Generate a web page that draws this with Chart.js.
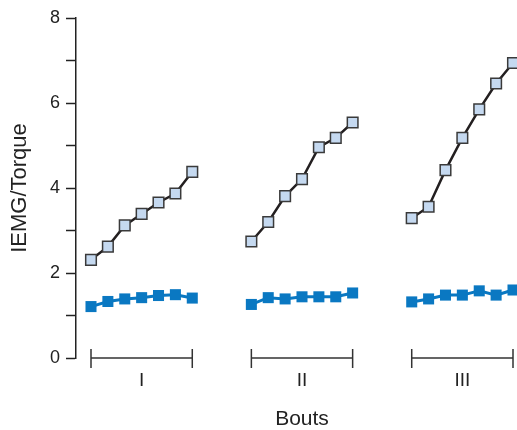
<!DOCTYPE html>
<html>
<head>
<meta charset="utf-8">
<script src="https://cdn.jsdelivr.net/npm/chart.js@4.4.0/dist/chart.umd.min.js"></script>
<style>
  html, body { margin: 0; padding: 0; background: #fff; }
  #wrap { width: 517px; height: 430px; }
</style>
</head>
<body>
<div id="wrap"><canvas id="myChart" width="517" height="430"></canvas></div>
<script>
// bouts and the seven readings taken in each
var bouts = ["I", "II", "III"];
var upperI   = [2.31, 2.62, 3.12, 3.39, 3.66, 3.87, 4.38];
var upperII  = [2.74, 3.20, 3.81, 4.21, 4.96, 5.18, 5.54];
var upperIII = [3.29, 3.56, 4.42, 5.18, 5.85, 6.46, 6.94];
var lowerI   = [1.21, 1.33, 1.39, 1.42, 1.47, 1.49, 1.41];
var lowerII  = [1.26, 1.42, 1.39, 1.44, 1.44, 1.44, 1.53];
var lowerIII = [1.32, 1.39, 1.48, 1.48, 1.58, 1.48, 1.60];
var yTicks = [0, 2, 4, 6, 8];
var xTitle = 'Bouts';

var upper = [upperI, upperII, upperIII];
var lower = [lowerI, lowerII, lowerIII];

// x layout: bouts 9.5 reading steps apart, one step ~16.9px, first reading 15px right of the axis
var boutGap = 9.5;
var stepPx = 16.88;
var leadPx = 15;
var font = "'Liberation Sans', Arial, Helvetica, sans-serif";

function pts(vals, b){
    return vals.map(function(v, i){ return {x: b * boutGap + i, y: v}; });
}

var datasets = [];
bouts.forEach(function(name, b){
    datasets.push({
        label: 'upper ' + name,
        data: pts(upper[b], b),
        borderColor: '#231f20',
        borderWidth: 2.5,
        pointStyle: 'rect',
        pointRadius: 7.5,
        pointBackgroundColor: '#c5d9f0',
        pointBorderColor: '#3a3a3a',
        pointBorderWidth: 1.5,
        clip: false
    });
    datasets.push({
        label: 'lower ' + name,
        data: pts(lower[b], b),
        borderColor: '#0a78c2',
        borderWidth: 3,
        pointStyle: 'rect',
        pointRadius: 7.8,
        pointBackgroundColor: '#0a78c2',
        pointBorderColor: '#0a78c2',
        pointBorderWidth: 0,
        clip: false
    });
});

// bracket under each bout with its numeral, axis title under the middle bout
var brackets = {
    id: 'brackets',
    afterDatasetsDraw: function(chart){
        var ctx = chart.ctx, xs = chart.scales.x, ys = chart.scales.y;
        var y = ys.getPixelForValue(0);
        var mid = [];
        ctx.save();
        ctx.strokeStyle = '#333';
        ctx.lineWidth = 1.5;
        ctx.fillStyle = '#222';
        ctx.font = '19px ' + font;
        ctx.textAlign = 'center';
        ctx.textBaseline = 'middle';
        bouts.forEach(function(name, b){
            var x1 = xs.getPixelForValue(b * boutGap);
            var x2 = xs.getPixelForValue(b * boutGap + upper[b].length - 1);
            ctx.beginPath();
            ctx.moveTo(x1, y); ctx.lineTo(x2, y);
            ctx.moveTo(x1, y - 9); ctx.lineTo(x1, y + 10);
            ctx.moveTo(x2, y - 9); ctx.lineTo(x2, y + 10);
            ctx.stroke();
            ctx.fillText(name, (x1 + x2) / 2, y + 23);
            mid.push((x1 + x2) / 2);
        });
        ctx.font = '21px ' + font;
        ctx.fillText(xTitle, mid[1], y + 61);
        ctx.restore();
    }
};

var ctx = document.getElementById("myChart");
var myChart = new Chart(ctx, {
    type: 'line',
    data: { datasets: datasets },
    options: {
        responsive: false,
        animation: false,
        layout: { padding: { top: 18, right: 0, left: 0, bottom: 0 } },
        plugins: { legend: { display: false }, tooltip: { enabled: false } },
        scales: {
            x: {
                type: 'linear',
                bounds: 'data',
                afterDataLimits: function(s){
                    s.min = -leadPx / stepPx;
                    s.max = s.min + s.width / stepPx;
                },
                grid: { display: false },
                border: { display: false },
                ticks: { display: false },
                afterFit: function(s){ s.height = 72; }
            },
            y: {
                min: 0,
                max: 8,
                afterBuildTicks: function(s){
                    s.ticks = [0,1,2,3,4,5,6,7,8].map(function(v){ return {value: v}; });
                },
                ticks: {
                    color: '#222',
                    padding: 6,
                    font: { family: font, size: 18 },
                    callback: function(v){ return yTicks.indexOf(v) >= 0 ? v : ''; }
                },
                grid: {
                    drawOnChartArea: false,
                    drawTicks: true,
                    tickLength: 10,
                    tickColor: '#222',
                    tickWidth: 1.5
                },
                border: { display: true, color: '#222', width: 1.5 },
                title: {
                    display: true,
                    text: 'IEMG/Torque',
                    color: '#222',
                    font: { family: font, size: 22, lineHeight: 1.2 },
                    padding: { top: 7, bottom: 0 }
                },
                afterFit: function(s){ s.width = 76; }
            }
        }
    },
    plugins: [brackets]
});
</script>
</body>
</html>
